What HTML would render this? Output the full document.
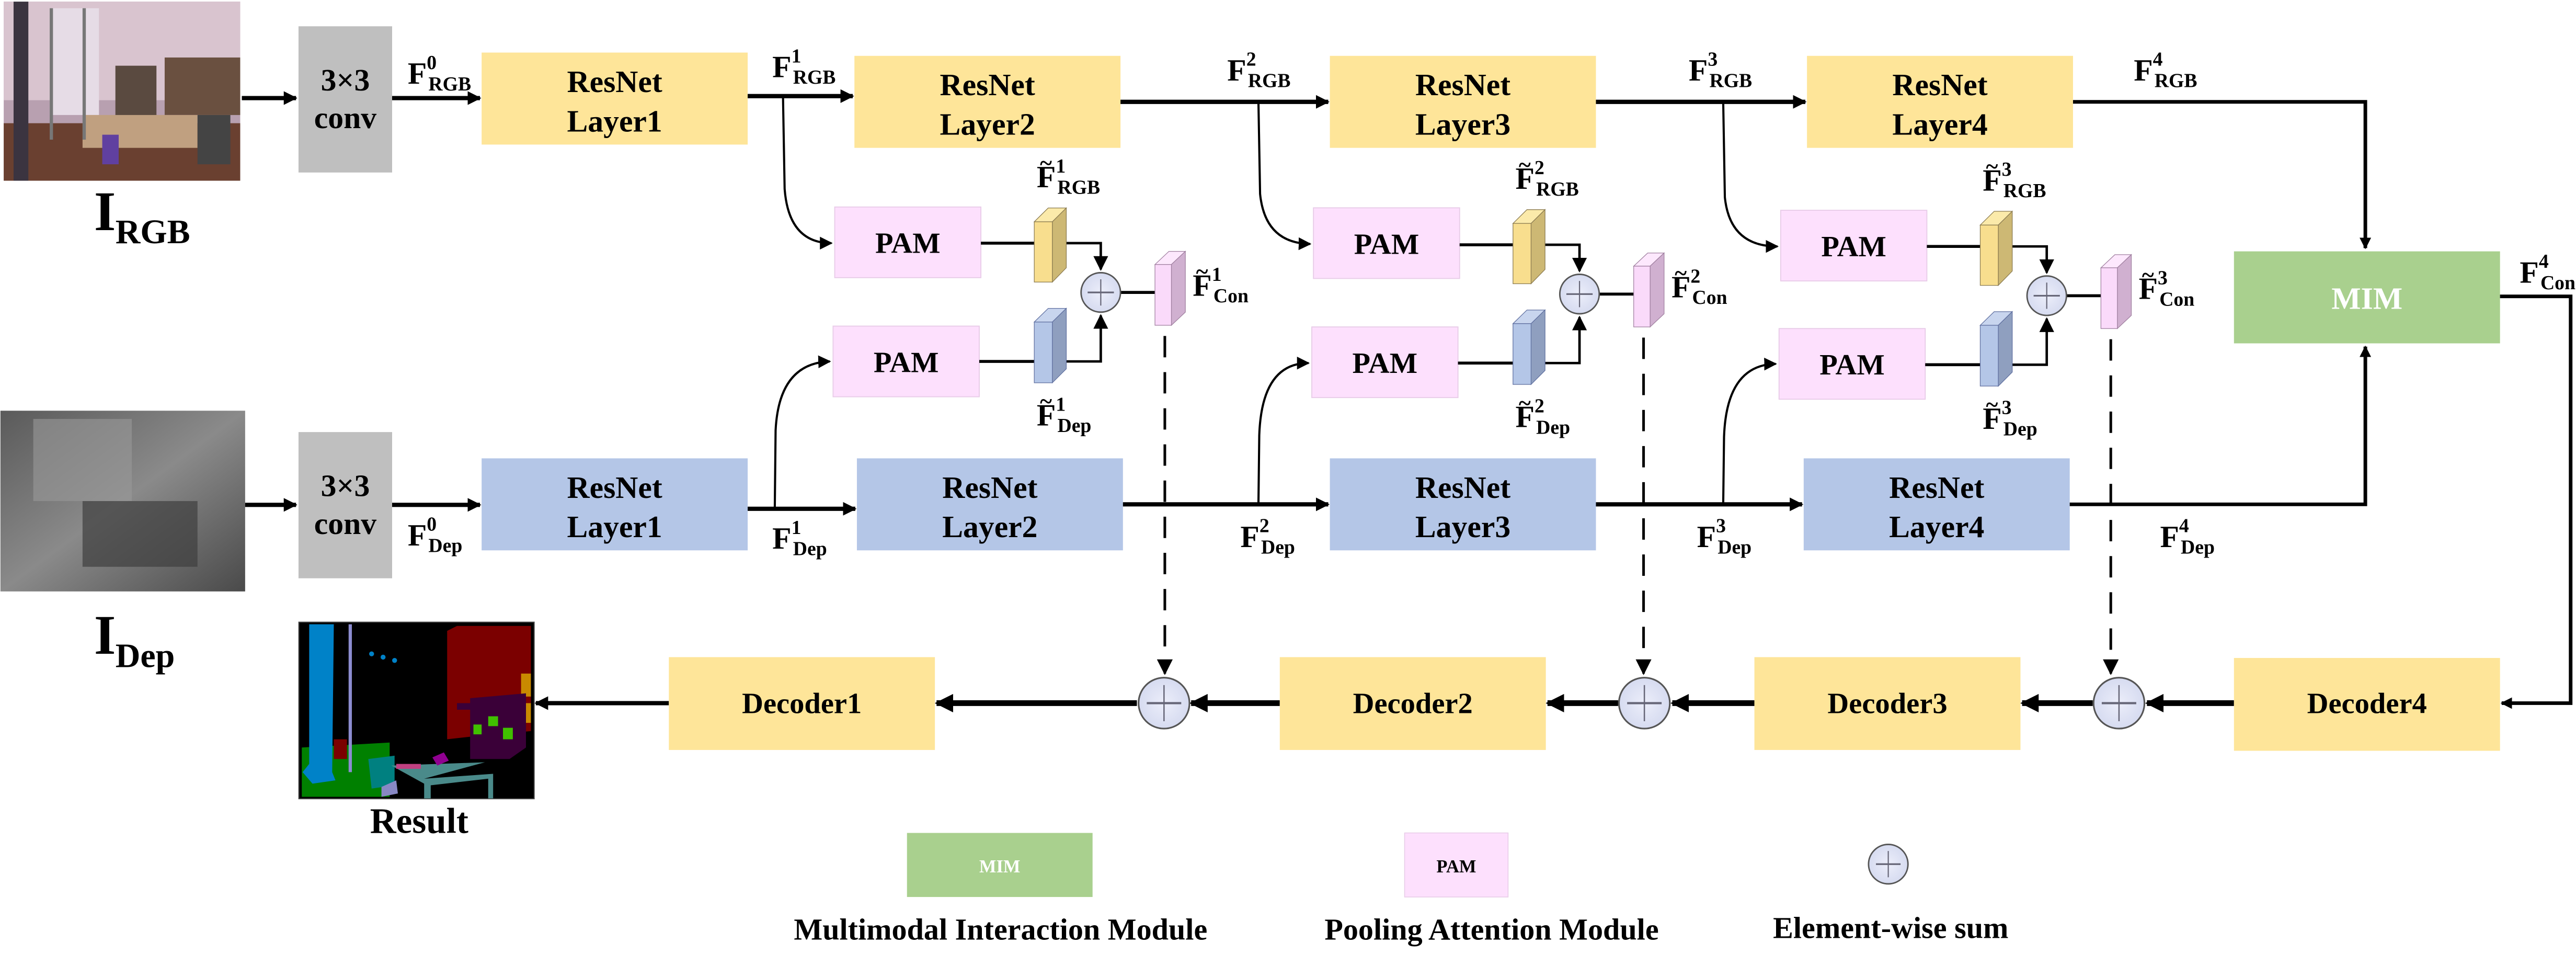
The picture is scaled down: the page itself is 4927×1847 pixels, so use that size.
<!DOCTYPE html>
<html><head><meta charset="utf-8"><style>
html,body{margin:0;padding:0;background:#fff;}
svg{display:block;font-family:"Liberation Serif","Times New Roman",serif;}
text{font-family:"Liberation Serif","Times New Roman",serif;font-weight:bold;fill:#000;}
</style></head><body>
<svg width="4927" height="1847" viewBox="0 0 1568 588" xmlns="http://www.w3.org/2000/svg" font-family="Liberation Serif, serif">
<defs>
<marker id="ah" viewBox="0 0 10 10" refX="9" refY="5" markerWidth="3.2" markerHeight="3.2" orient="auto" markerUnits="strokeWidth"><path d="M0,0 L10,5 L0,10 z" fill="#000"/></marker>
<marker id="ahs" viewBox="0 0 10 10" refX="9" refY="5" markerWidth="6" markerHeight="6" orient="auto" markerUnits="strokeWidth"><path d="M0,0 L10,5 L0,10 z" fill="#000"/></marker>
<linearGradient id="dg" x1="0" y1="0" x2="1" y2="1"><stop offset="0" stop-color="#5a5a5a"/><stop offset="0.5" stop-color="#8a8a8a"/><stop offset="1" stop-color="#4a4a4a"/></linearGradient>
<radialGradient id="cg"><stop offset="0" stop-color="#eceefa"/><stop offset="1" stop-color="#d6dbf0"/></radialGradient>
</defs>

<!-- RGB image -->
<rect x="2" y="1" width="144" height="109" fill="#b8a0b0"/>
<rect x="2" y="1" width="144" height="60" fill="#d9c4cf"/>
<rect x="30" y="5" width="30" height="65" fill="#e6dce6"/>
<rect x="100" y="35" width="46" height="35" fill="#6a5040"/>
<rect x="70" y="40" width="25" height="35" fill="#5a4a40"/>
<rect x="2" y="75" width="144" height="35" fill="#6a4030"/>
<rect x="50" y="70" width="70" height="20" fill="#c0a080"/>
<rect x="8" y="1" width="9" height="109" fill="#3b3440"/>
<rect x="30" y="5" width="2" height="80" fill="#777"/>
<rect x="50" y="5" width="2" height="80" fill="#777"/>
<rect x="120" y="70" width="20" height="30" fill="#444"/>
<rect x="62" y="82" width="10" height="18" fill="#6040a0"/>
<text x="57" y="140" font-size="34">I</text><text x="70" y="148" font-size="21">RGB</text>

<!-- Depth image -->
<rect x="0" y="250" width="149" height="110" fill="url(#dg)"/>
<rect x="20" y="255" width="60" height="50" fill="#9a9a9a" opacity="0.6"/>
<rect x="50" y="305" width="70" height="40" fill="#3e3e3e" opacity="0.7"/>
<text x="57" y="398" font-size="34">I</text><text x="70" y="406" font-size="21">Dep</text>

<!-- conv boxes -->
<rect x="181.5" y="16" width="57" height="89" fill="#bfbfbf"/>
<text x="210" y="55" font-size="19" text-anchor="middle">3×3</text>
<text x="210" y="78" font-size="19" text-anchor="middle">conv</text>
<rect x="181.5" y="263" width="57" height="89" fill="#bfbfbf"/>
<text x="210" y="302" font-size="19" text-anchor="middle">3×3</text>
<text x="210" y="325" font-size="19" text-anchor="middle">conv</text>

<!-- RGB ResNet -->
<g fill="#fee599">
<rect x="293" y="32" width="162" height="56"/>
<rect x="520" y="34" width="162" height="56"/>
<rect x="809.5" y="34" width="162" height="56"/>
<rect x="1100" y="34" width="162" height="56"/>
</g>
<g fill="#b4c6e7">
<rect x="293" y="279" width="162" height="56"/>
<rect x="521.5" y="279" width="162" height="56"/>
<rect x="809.5" y="279" width="162" height="56"/>
<rect x="1098" y="279" width="162" height="56"/>
</g>
<g font-size="19" text-anchor="middle">
<text x="374" y="56">ResNet</text><text x="374" y="80">Layer1</text>
<text x="601" y="58">ResNet</text><text x="601" y="82">Layer2</text>
<text x="890.5" y="58">ResNet</text><text x="890.5" y="82">Layer3</text>
<text x="1181" y="58">ResNet</text><text x="1181" y="82">Layer4</text>
<text x="374" y="303">ResNet</text><text x="374" y="327">Layer1</text>
<text x="602.5" y="303">ResNet</text><text x="602.5" y="327">Layer2</text>
<text x="890.5" y="303">ResNet</text><text x="890.5" y="327">Layer3</text>
<text x="1179" y="303">ResNet</text><text x="1179" y="327">Layer4</text>
</g>

<!-- MIM -->
<rect x="1360" y="153" width="162" height="56" fill="#a9d08e"/>
<text x="1441" y="188" font-size="19" text-anchor="middle" style="fill:#fff">MIM</text>

<!-- PAM boxes -->
<g fill="#fde0fd" stroke="#e8cce8" stroke-width="0.6">
<rect x="508" y="126" width="89" height="43"/>
<rect x="799.5" y="126.5" width="89" height="43"/>
<rect x="1084" y="128" width="89" height="43"/>
<rect x="507" y="198.5" width="89" height="43"/>
<rect x="798.5" y="199" width="89" height="43"/>
<rect x="1083" y="200" width="89" height="43"/>
</g>
<g font-size="18" text-anchor="middle">
<text x="552.5" y="154">PAM</text><text x="844" y="154.5">PAM</text><text x="1128.5" y="156">PAM</text>
<text x="551.5" y="226.5">PAM</text><text x="843" y="227">PAM</text><text x="1127.5" y="228">PAM</text>
</g>

<!-- main arrows -->
<g stroke="#000" stroke-width="2.6" fill="none">
<line x1="147" y1="59.7" x2="180" y2="59.7" marker-end="url(#ah)"/>
<line x1="238.5" y1="59.7" x2="292" y2="59.7" marker-end="url(#ah)"/>
<line x1="455" y1="58.5" x2="519" y2="58.5" marker-end="url(#ah)"/>
<line x1="682" y1="62" x2="808.5" y2="62" marker-end="url(#ah)"/>
<line x1="971.5" y1="62" x2="1099" y2="62" marker-end="url(#ah)"/>
<polyline points="1262,62 1440,62 1440,151" stroke-width="2.2" marker-end="url(#ah)"/>
<line x1="149" y1="307.3" x2="180" y2="307.3" marker-end="url(#ah)"/>
<line x1="238.5" y1="307.3" x2="292" y2="307.3" marker-end="url(#ah)"/>
<line x1="455" y1="309.7" x2="520.5" y2="309.7" marker-end="url(#ah)"/>
<line x1="683.5" y1="307" x2="808.5" y2="307" marker-end="url(#ah)"/>
<line x1="971.5" y1="307" x2="1097" y2="307" marker-end="url(#ah)"/>
<polyline points="1260,307 1440,307 1440,211" stroke-width="2.2" marker-end="url(#ah)"/>
<polyline points="1522,180.4 1565,180.4 1565,428 1523,428" stroke-width="2.2" marker-end="url(#ah)"/>
<line x1="1360" y1="428" x2="1307" y2="428" stroke-width="3.5" marker-end="url(#ah)"/>
<line x1="1274" y1="428" x2="1231" y2="428" stroke-width="3.5" marker-end="url(#ah)"/>
<line x1="1068" y1="428" x2="1018" y2="428" stroke-width="3.5" marker-end="url(#ah)"/>
<line x1="985" y1="428" x2="942" y2="428" stroke-width="3.5" marker-end="url(#ah)"/>
<line x1="779" y1="428" x2="725" y2="428" stroke-width="3.5" marker-end="url(#ah)"/>
<line x1="692" y1="428" x2="570" y2="428" stroke-width="3.5" marker-end="url(#ah)"/>
<line x1="407" y1="428" x2="326" y2="428" stroke-width="2.6" marker-end="url(#ah)"/>
</g>

<!-- branch curves -->
<g stroke="#000" stroke-width="1.3" fill="none">
<path d="M476.5,58.5 L477.5,115 Q480,148 506,148" marker-end="url(#ahs)"/>
<path d="M766,62 L767,118 Q770,148 797.5,148.5" marker-end="url(#ahs)"/>
<path d="M1049,62 L1050,120 Q1053,150 1082,150" marker-end="url(#ahs)"/>
<path d="M471.5,309.7 L472,262 Q474,221 505,220" marker-end="url(#ahs)"/>
<path d="M766,307 L766.5,265 Q768,221 796.5,221" marker-end="url(#ahs)"/>
<path d="M1049,307 L1049.5,266 Q1051,222 1081,221.5" marker-end="url(#ahs)"/>
</g>

<!-- fusion groups -->
<g>
<g stroke="#000" stroke-width="1.8" fill="none">
<line x1="597" y1="148" x2="630" y2="148"/>
<polyline points="649,148 670,148 670,164" stroke-width="1.5" marker-end="url(#ahs)"/>
<line x1="596" y1="220" x2="630" y2="220"/>
<polyline points="649,220 670,220 670,192" stroke-width="1.5" marker-end="url(#ahs)"/>
<line x1="682" y1="178" x2="703" y2="178"/>
<line x1="709" y1="204.5" x2="709" y2="410" stroke-width="1.6" stroke-dasharray="13,9" marker-end="url(#ahs)"/>
</g>
<polygon points="629.5,135 640.5,135 649,126.6 638,126.6" fill="#fbeaaa" stroke="#8a7a50" stroke-width="0.4"/>
<polygon points="640.5,135 649,126.6 649,163 640.5,171.7" fill="#cdb874" stroke="#8a7a50" stroke-width="0.4"/>
<rect x="629.5" y="135" width="11" height="36.7" fill="#f8de8e" stroke="#8a7a50" stroke-width="0.4"/>
<polygon points="629.5,196 640.5,196 649,187.7 638,187.7" fill="#c8d5ee" stroke="#6070a0" stroke-width="0.4"/>
<polygon points="640.5,196 649,187.7 649,224.5 640.5,233" fill="#8f9fbf" stroke="#6070a0" stroke-width="0.4"/>
<rect x="629.5" y="196" width="11" height="37" fill="#b4c6e7" stroke="#6070a0" stroke-width="0.4"/>
<polygon points="703,161 713,161 721.5,153 711.5,153" fill="#fde8fd" stroke="#a080a0" stroke-width="0.4"/>
<polygon points="713,161 721.5,153 721.5,190 713,198" fill="#d0b0d0" stroke="#a080a0" stroke-width="0.4"/>
<rect x="703" y="161" width="10" height="37" fill="#fadafa" stroke="#a080a0" stroke-width="0.4"/>
<circle cx="670" cy="178" r="12" fill="url(#cg)" stroke="#555" stroke-width="0.9"/>
<line x1="662" y1="178" x2="678" y2="178" stroke="#667" stroke-width="1"/>
<line x1="670" y1="170" x2="670" y2="186" stroke="#667" stroke-width="0.7"/>
<text x="631" y="114" font-size="19">F<tspan font-size="12" dy="-9">1</tspan><tspan font-size="12" dx="-5" dy="13">RGB</tspan></text>
<text x="633" y="104" font-size="14">~</text>
<text x="631" y="259" font-size="19">F<tspan font-size="12" dy="-9">1</tspan><tspan font-size="12" dx="-5" dy="13">Dep</tspan></text>
<text x="633" y="249" font-size="14">~</text>
<text x="726" y="180" font-size="19">F<tspan font-size="12" dy="-9">1</tspan><tspan font-size="12" dx="-5" dy="13">Con</tspan></text>
<text x="728" y="170" font-size="14">~</text>
</g>
<g transform="translate(291.5,1)">
<g stroke="#000" stroke-width="1.8" fill="none">
<line x1="597" y1="148" x2="630" y2="148"/>
<polyline points="649,148 670,148 670,164" stroke-width="1.5" marker-end="url(#ahs)"/>
<line x1="596" y1="220" x2="630" y2="220"/>
<polyline points="649,220 670,220 670,192" stroke-width="1.5" marker-end="url(#ahs)"/>
<line x1="682" y1="178" x2="703" y2="178"/>
<line x1="709" y1="204.5" x2="709" y2="409" stroke-width="1.6" stroke-dasharray="13,9" marker-end="url(#ahs)"/>
</g>
<polygon points="629.5,135 640.5,135 649,126.6 638,126.6" fill="#fbeaaa" stroke="#8a7a50" stroke-width="0.4"/>
<polygon points="640.5,135 649,126.6 649,163 640.5,171.7" fill="#cdb874" stroke="#8a7a50" stroke-width="0.4"/>
<rect x="629.5" y="135" width="11" height="36.7" fill="#f8de8e" stroke="#8a7a50" stroke-width="0.4"/>
<polygon points="629.5,196 640.5,196 649,187.7 638,187.7" fill="#c8d5ee" stroke="#6070a0" stroke-width="0.4"/>
<polygon points="640.5,196 649,187.7 649,224.5 640.5,233" fill="#8f9fbf" stroke="#6070a0" stroke-width="0.4"/>
<rect x="629.5" y="196" width="11" height="37" fill="#b4c6e7" stroke="#6070a0" stroke-width="0.4"/>
<polygon points="703,161 713,161 721.5,153 711.5,153" fill="#fde8fd" stroke="#a080a0" stroke-width="0.4"/>
<polygon points="713,161 721.5,153 721.5,190 713,198" fill="#d0b0d0" stroke="#a080a0" stroke-width="0.4"/>
<rect x="703" y="161" width="10" height="37" fill="#fadafa" stroke="#a080a0" stroke-width="0.4"/>
<circle cx="670" cy="178" r="12" fill="url(#cg)" stroke="#555" stroke-width="0.9"/>
<line x1="662" y1="178" x2="678" y2="178" stroke="#667" stroke-width="1"/>
<line x1="670" y1="170" x2="670" y2="186" stroke="#667" stroke-width="0.7"/>
<text x="631" y="114" font-size="19">F<tspan font-size="12" dy="-9">2</tspan><tspan font-size="12" dx="-5" dy="13">RGB</tspan></text>
<text x="633" y="104" font-size="14">~</text>
<text x="631" y="259" font-size="19">F<tspan font-size="12" dy="-9">2</tspan><tspan font-size="12" dx="-5" dy="13">Dep</tspan></text>
<text x="633" y="249" font-size="14">~</text>
<text x="726" y="180" font-size="19">F<tspan font-size="12" dy="-9">2</tspan><tspan font-size="12" dx="-5" dy="13">Con</tspan></text>
<text x="728" y="170" font-size="14">~</text>
</g>
<g transform="translate(576,2)">
<g stroke="#000" stroke-width="1.8" fill="none">
<line x1="597" y1="148" x2="630" y2="148"/>
<polyline points="649,148 670,148 670,164" stroke-width="1.5" marker-end="url(#ahs)"/>
<line x1="596" y1="220" x2="630" y2="220"/>
<polyline points="649,220 670,220 670,192" stroke-width="1.5" marker-end="url(#ahs)"/>
<line x1="682" y1="178" x2="703" y2="178"/>
<line x1="709" y1="204.5" x2="709" y2="408" stroke-width="1.6" stroke-dasharray="13,9" marker-end="url(#ahs)"/>
</g>
<polygon points="629.5,135 640.5,135 649,126.6 638,126.6" fill="#fbeaaa" stroke="#8a7a50" stroke-width="0.4"/>
<polygon points="640.5,135 649,126.6 649,163 640.5,171.7" fill="#cdb874" stroke="#8a7a50" stroke-width="0.4"/>
<rect x="629.5" y="135" width="11" height="36.7" fill="#f8de8e" stroke="#8a7a50" stroke-width="0.4"/>
<polygon points="629.5,196 640.5,196 649,187.7 638,187.7" fill="#c8d5ee" stroke="#6070a0" stroke-width="0.4"/>
<polygon points="640.5,196 649,187.7 649,224.5 640.5,233" fill="#8f9fbf" stroke="#6070a0" stroke-width="0.4"/>
<rect x="629.5" y="196" width="11" height="37" fill="#b4c6e7" stroke="#6070a0" stroke-width="0.4"/>
<polygon points="703,161 713,161 721.5,153 711.5,153" fill="#fde8fd" stroke="#a080a0" stroke-width="0.4"/>
<polygon points="713,161 721.5,153 721.5,190 713,198" fill="#d0b0d0" stroke="#a080a0" stroke-width="0.4"/>
<rect x="703" y="161" width="10" height="37" fill="#fadafa" stroke="#a080a0" stroke-width="0.4"/>
<circle cx="670" cy="178" r="12" fill="url(#cg)" stroke="#555" stroke-width="0.9"/>
<line x1="662" y1="178" x2="678" y2="178" stroke="#667" stroke-width="1"/>
<line x1="670" y1="170" x2="670" y2="186" stroke="#667" stroke-width="0.7"/>
<text x="631" y="114" font-size="19">F<tspan font-size="12" dy="-9">3</tspan><tspan font-size="12" dx="-5" dy="13">RGB</tspan></text>
<text x="633" y="104" font-size="14">~</text>
<text x="631" y="259" font-size="19">F<tspan font-size="12" dy="-9">3</tspan><tspan font-size="12" dx="-5" dy="13">Dep</tspan></text>
<text x="633" y="249" font-size="14">~</text>
<text x="726" y="180" font-size="19">F<tspan font-size="12" dy="-9">3</tspan><tspan font-size="12" dx="-5" dy="13">Con</tspan></text>
<text x="728" y="170" font-size="14">~</text>
</g>

<!-- feature labels -->
<g font-size="19">
<text x="248" y="51">F<tspan font-size="12" dy="-9">0</tspan><tspan font-size="12" dx="-5" dy="13">RGB</tspan></text>
<text x="470" y="47">F<tspan font-size="12" dy="-9">1</tspan><tspan font-size="12" dx="-5" dy="13">RGB</tspan></text>
<text x="747" y="49">F<tspan font-size="12" dy="-9">2</tspan><tspan font-size="12" dx="-5" dy="13">RGB</tspan></text>
<text x="1028" y="49">F<tspan font-size="12" dy="-9">3</tspan><tspan font-size="12" dx="-5" dy="13">RGB</tspan></text>
<text x="1299" y="49">F<tspan font-size="12" dy="-9">4</tspan><tspan font-size="12" dx="-5" dy="13">RGB</tspan></text>
<text x="1534" y="172">F<tspan font-size="12" dy="-9">4</tspan><tspan font-size="12" dx="-5" dy="13">Con</tspan></text>
<text x="248" y="332">F<tspan font-size="12" dy="-9">0</tspan><tspan font-size="12" dx="-5" dy="13">Dep</tspan></text>
<text x="470" y="334">F<tspan font-size="12" dy="-9">1</tspan><tspan font-size="12" dx="-5" dy="13">Dep</tspan></text>
<text x="755" y="333">F<tspan font-size="12" dy="-9">2</tspan><tspan font-size="12" dx="-5" dy="13">Dep</tspan></text>
<text x="1033" y="333">F<tspan font-size="12" dy="-9">3</tspan><tspan font-size="12" dx="-5" dy="13">Dep</tspan></text>
<text x="1315" y="333">F<tspan font-size="12" dy="-9">4</tspan><tspan font-size="12" dx="-5" dy="13">Dep</tspan></text>
</g>

<!-- decoders -->
<g fill="#fee599">
<rect x="407" y="400" width="162" height="56.5"/>
<rect x="779" y="400" width="162" height="56.5"/>
<rect x="1068" y="400" width="162" height="56.5"/>
<rect x="1360" y="400.5" width="162" height="56.5"/>
</g>
<g font-size="18" text-anchor="middle">
<text x="488" y="434">Decoder1</text>
<text x="860" y="434">Decoder2</text>
<text x="1149" y="434">Decoder3</text>
<text x="1441" y="434">Decoder4</text>
</g>
<g>
<circle cx="708.5" cy="428" r="15.5" fill="url(#cg)" stroke="#555" stroke-width="1"/>
<circle cx="1001" cy="428" r="15.5" fill="url(#cg)" stroke="#555" stroke-width="1"/>
<circle cx="1290" cy="428" r="15.5" fill="url(#cg)" stroke="#555" stroke-width="1"/>
<g stroke="#667" stroke-width="0.8">
<line x1="698" y1="428" x2="719" y2="428" stroke-width="1.3"/><line x1="708.5" y1="417" x2="708.5" y2="439"/>
<line x1="990.5" y1="428" x2="1011.5" y2="428" stroke-width="1.3"/><line x1="1001" y1="417" x2="1001" y2="439"/>
<line x1="1279.5" y1="428" x2="1300.5" y2="428" stroke-width="1.3"/><line x1="1290" y1="417" x2="1290" y2="439"/>
</g>
</g>

<!-- result image -->
<rect x="181.7" y="378.7" width="143.3" height="107.5" fill="#000" stroke="#444" stroke-width="0.6"/>
<polygon points="272,384 278,381 323,381 323,445 290,448 272,450" fill="#7b0000"/>
<rect x="317" y="410" width="6" height="14" fill="#c98a00"/>
<rect x="317" y="428" width="6" height="12" fill="#c98a00"/>
<polygon points="286,425 320,422 320,455 310,462 286,462" fill="#3a0038"/>
<rect x="278" y="428" width="10" height="4" fill="#3a0038"/>
<rect x="297" y="436" width="6" height="6" fill="#40c000"/>
<rect x="288" y="441" width="5" height="6" fill="#40c000"/>
<rect x="306" y="443" width="6" height="7" fill="#40c000"/>
<polygon points="183.5,455 237,452 237,485 183.5,485" fill="#008000"/>
<polygon points="188,380 203,380 202,470 204,475 190,477 184,470 188,465" fill="#0082c8"/>
<rect x="212" y="380" width="2" height="90" fill="#8c8cd0"/>
<rect x="203" y="450" width="8" height="12" fill="#7b0000"/>
<polygon points="224,462 240,460 240,478 226,480" fill="#008080"/>
<polygon points="232,479 241,475 242,483 232,485" fill="#8888c4"/>
<polygon points="238,466 295,464 258,474 300,471 300,486 297,486 297,474 262,478 262,486 258,486 258,477" fill="#4a8a8a"/>
<polygon points="241,465 256,465 256,468 241,468" fill="#c04080"/>
<polygon points="263,461 270,458 273,463 266,466" fill="#900090"/>
<circle cx="226" cy="398" r="1.5" fill="#0082c8"/><circle cx="233" cy="400" r="1.5" fill="#0082c8"/><circle cx="240" cy="402" r="1.5" fill="#0082c8"/>
<text x="255" y="507" font-size="22" text-anchor="middle">Result</text>

<!-- legend -->
<rect x="552" y="507" width="113" height="39" fill="#a9d08e"/>
<text x="608.5" y="531" font-size="11" text-anchor="middle" style="fill:#fff">MIM</text>
<rect x="855" y="507" width="63" height="39" fill="#fde0fd" stroke="#e8cce8" stroke-width="0.5"/>
<text x="886.5" y="531" font-size="11" text-anchor="middle">PAM</text>
<circle cx="1149.5" cy="526" r="12" fill="url(#cg)" stroke="#555" stroke-width="0.9"/>
<line x1="1142" y1="526" x2="1157" y2="526" stroke="#667" stroke-width="1"/>
<line x1="1149.5" y1="518" x2="1149.5" y2="534" stroke="#667" stroke-width="0.7"/>
<g font-size="18.5" text-anchor="middle">
<text x="609" y="572">Multimodal Interaction Module</text>
<text x="908" y="572">Pooling Attention Module</text>
<text x="1151" y="571">Element-wise sum</text>
</g>
</svg>
</body></html>
